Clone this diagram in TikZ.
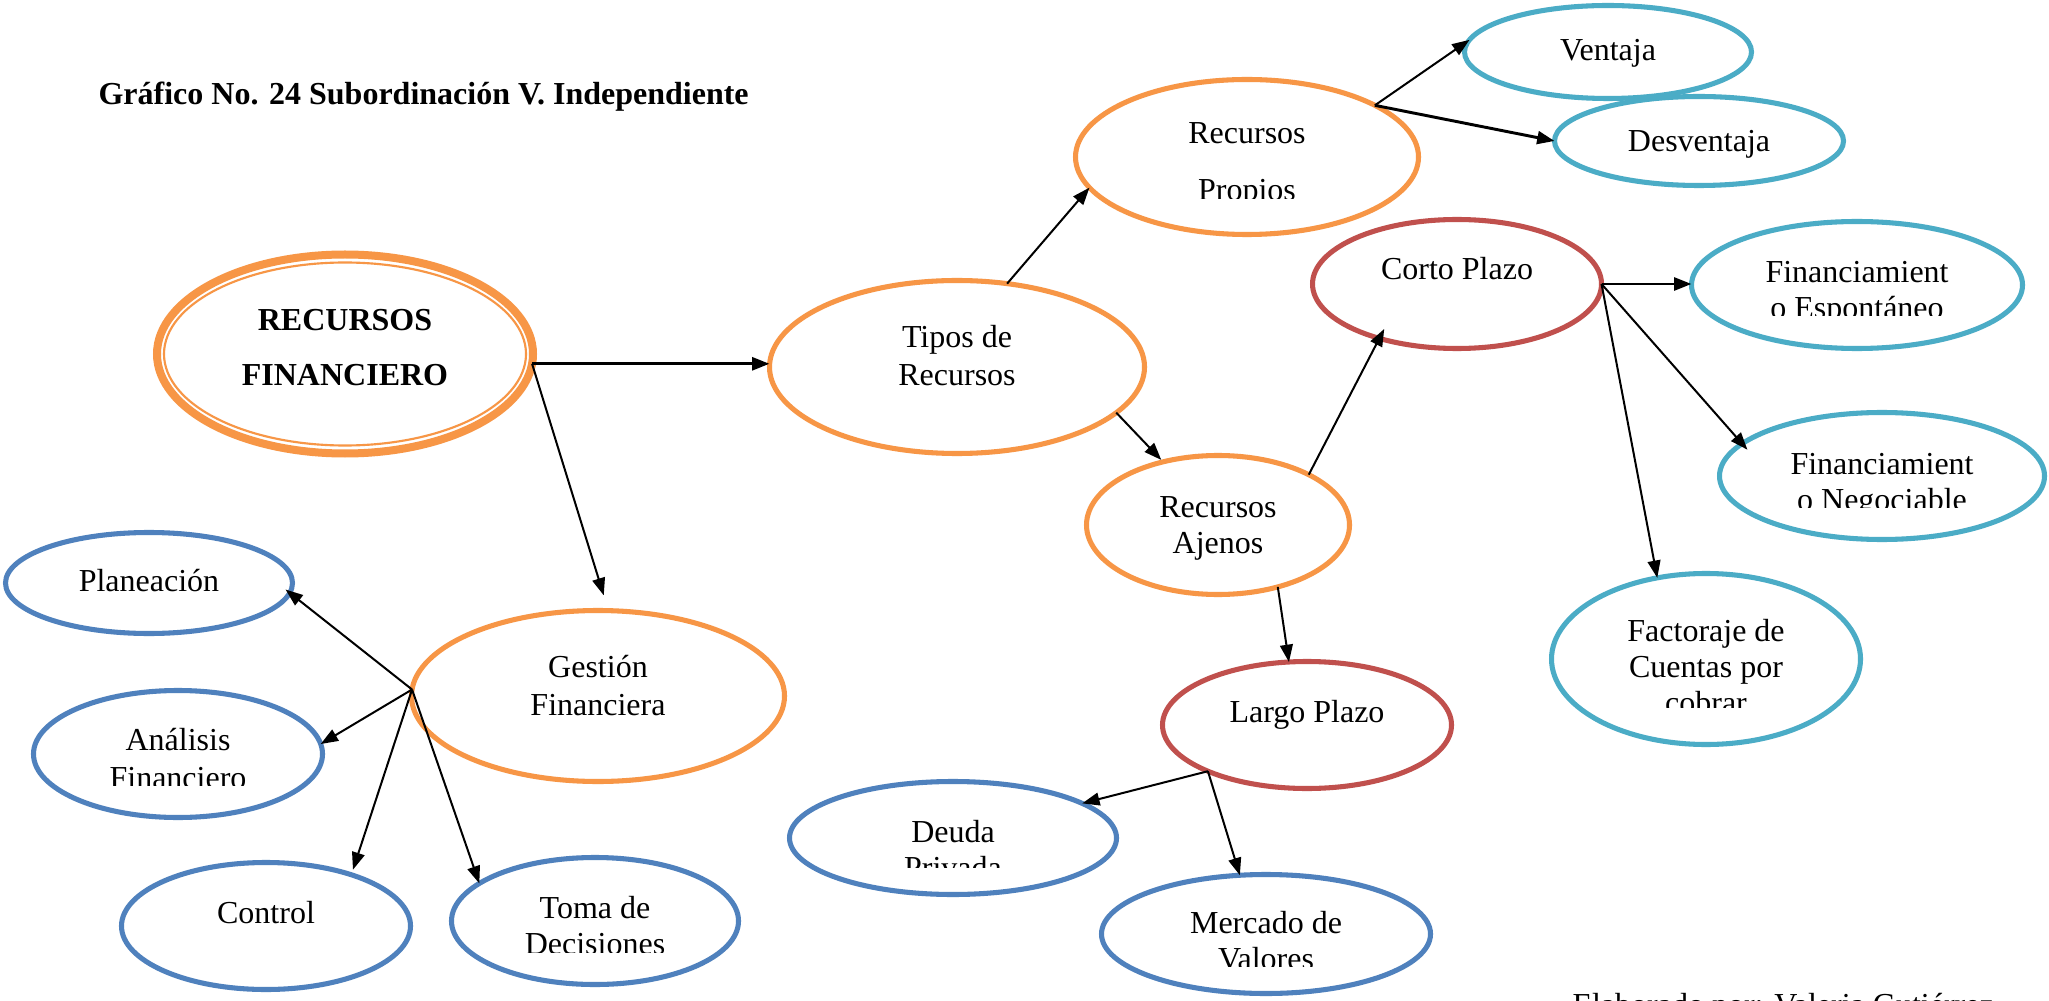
\documentclass[tikz,border=0pt]{standalone}
\usepackage{fontspec}
\setmainfont{Liberation Serif}
\usetikzlibrary{shapes.geometric,arrows.meta}

\definecolor{cOrange}{HTML}{F79646}
\definecolor{cBlue}{HTML}{4F81BD}
\definecolor{cTeal}{HTML}{4BACC6}
\definecolor{cRed}{HTML}{C0504D}

\tikzset{
  bubble/.style n args={3}{ellipse, draw=#1, line width=1.9pt,
    minimum width=#2*0.375pt, minimum height=#3*0.375pt,
    inner sep=0pt, outer sep=0pt},
  txt/.style={font=\fontsize{12}{14}\selectfont, inner sep=0pt, anchor=base},
  boldtxt/.style={txt, font=\fontsize{12}{14}\selectfont\bfseries},
  link/.style={-{Triangle[length=6.5pt,width=4.8pt]}, line width=0.75pt, draw=black},
  heavy/.style={link, line width=1.1pt},
}

% a text line whose lower part is cut off at a given height
\newcommand\cutline[5]{%
  \begin{scope}
    \clip (#2-260,#4-80) rectangle (#2+260,#4);
    \node[txt] (#1) at (#2,#3) {#5};
  \end{scope}}

\begin{document}
\begin{tikzpicture}[x=0.375pt, y=-0.375pt]
  \useasboundingbox (0,0) rectangle (2049,1001);
  \fill[white] (0,0) rectangle (2049,1001);

  % title
  \node[boldtxt, anchor=base west] (title) at (98,105)
    {Gráfico No. 24 Subordinación V. Independiente};

  % bubbles
  \node[bubble={cOrange}{376}{199}, line width=3pt] (rf) at (345,354) {};
  \node[bubble={cOrange}{362}{183}, line width=0.8pt] (rfin) at (345,354) {};
  \node[bubble={cOrange}{375}{173}] (tr) at (957,367) {};
  \node[bubble={cOrange}{343}{155}] (rp) at (1247,157) {};
  \node[bubble={cTeal}{287}{93}]    (ven) at (1608,52) {};
  \node[bubble={cTeal}{289}{89}]    (des) at (1699,141) {};
  \node[bubble={cRed}{289}{129}]    (cp) at (1457,284) {};
  \node[bubble={cTeal}{331}{127}]   (fe) at (1857,285) {};
  \node[bubble={cTeal}{325}{127}]   (fn) at (1882,476) {};
  \node[bubble={cOrange}{263}{139}] (ra) at (1218,525) {};
  \node[bubble={cRed}{289}{127}]    (lp) at (1307,725) {};
  \node[bubble={cTeal}{309}{171}]   (fc) at (1706,659) {};
  \node[bubble={cBlue}{329}{119}]   (mv) at (1266,934) {};
  \node[bubble={cBlue}{287}{101}]   (pl) at (149,583) {};
  \node[bubble={cOrange}{373}{171}] (gf) at (598,696) {};
  \node[bubble={cBlue}{289}{127}]   (an) at (178,754) {};
  \node[bubble={cBlue}{289}{127}]   (co) at (266,926) {};
  \node[bubble={cBlue}{287}{127}]   (td) at (595,921) {};
  \node[bubble={cBlue}{327}{113}]   (dp) at (953,838) {};

  % labels
  \node[boldtxt] (rfA) at (345,331) {RECURSOS};
  \node[boldtxt] (rfB) at (345,386) {FINANCIERO};
  \node[txt] (trA) at (957,348) {Tipos de};
  \node[txt] (trB) at (957,386) {Recursos};
  \node[txt] (rpA) at (1247,144) {Recursos};
  \cutline{rpB}{1247}{201}{199}{Propios}
  \node[txt] (venA) at (1608,61) {Ventaja};
  \node[txt] (desA) at (1699,152) {Desventaja};
  \node[txt] (cpA) at (1457,280) {Corto Plazo};
  \node[txt] (feA) at (1857,283) {Financiamient};
  \cutline{feB}{1857}{319}{316}{o Espontáneo}
  \node[txt] (fnA) at (1882,474) {Financiamient};
  \cutline{fnB}{1882}{510}{507}{o Negociable}
  \node[txt] (raA) at (1218,517) {Recursos};
  \node[txt] (raB) at (1218,553) {Ajenos};
  \node[txt] (lpA) at (1307,722) {Largo Plazo};
  \node[txt] (fcA) at (1706,641) {Factoraje de};
  \node[txt] (fcB) at (1706,677) {Cuentas por};
  \cutline{fcC}{1706}{713}{707}{cobrar}
  \node[txt] (mvA) at (1266,933) {Mercado de};
  \cutline{mvB}{1266}{969}{966}{Valores}
  \node[txt] (plA) at (149,591) {Planeación};
  \node[txt] (gfA) at (598,677) {Gestión};
  \node[txt] (gfB) at (598,715) {Financiera};
  \node[txt] (anA) at (178,750) {Análisis};
  \cutline{anB}{178}{788}{785}{Financiero}
  \node[txt] (coA) at (266,923) {Control};
  \node[txt] (tdA) at (595,918) {Toma de};
  \cutline{tdB}{595}{954}{952}{Decisiones}
  \node[txt] (dpA) at (953,842) {Deuda};
  \cutline{dpB}{953}{878}{867}{Privada}

  % connectors
  \draw[heavy] (rf.-3) -- (rf.-3 -| tr.west);
  \draw[link, shorten >=6pt] (rf.-3) -- (gf.83);
  \draw[link] (tr.59) -- (rp.191);
  \draw[link, shorten >=1pt] (tr.-16) -- (ra.131);
  \draw[link] (rp.22) -- (ven.175);
  \draw[heavy] (rp.22) -- (des.west);
  \draw[link, shorten >=-4pt] (ra.29) -- (cp.215);
  \draw[link] (ra.-46) -- (lp.106);
  \draw[heavy] (cp.east) -- (cp.east -| fe.west);
  \draw[link, shorten >=-3pt] (cp.east) -- (fn.167);
  \draw[link] (cp.east) -- (fc.121);
  \draw[link] (lp.205) -- (dp.15);
  \draw[link] (lp.205) -- (mv.114);
  \draw[link, shorten >=-2pt] (gf.178) -- (pl.-4);
  \draw[link] (gf.178) -- (an.4);
  \draw[link, shorten >=2pt] (gf.178) -- (co.31);
  \draw[link] (gf.178) -- (td.162);

  % author note at the lower edge
  \begin{scope}
    \clip (0,0) rectangle (2049,1001);
    \node[txt, anchor=base west] (author) at (1572,1015)
      {Elaborado por: Valeria Gutiérrez};
  \end{scope}
\end{tikzpicture}
\end{document}
